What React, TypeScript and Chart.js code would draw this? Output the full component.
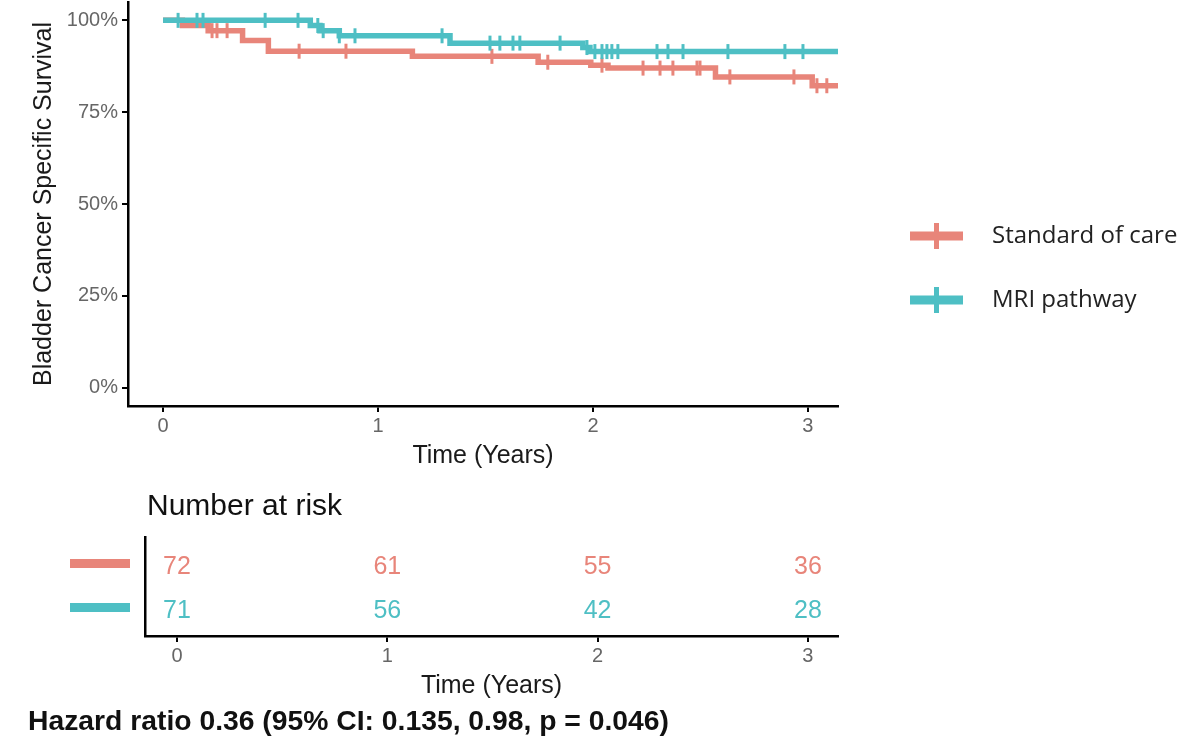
import React, { useEffect, useRef } from 'react';
import { Chart, registerables } from 'chart.js';

Chart.register(...registerables);
Chart.defaults.font.family = "'Liberation Sans', Arial, Helvetica, sans-serif";

const SOC_COLOR = '#E8857A';
const MRI_COLOR = '#4EBFC4';
const TICK_COLOR = '#666666';
const TITLE_COLOR = '#1a1a1a';

// Kaplan-Meier step curves: time (years) of each step and survival (%) after it
const socTimes = [0, 0.09, 0.21, 0.37, 0.49, 1.16, 1.745, 1.99, 2.07, 2.57, 3.02, 3.14];
const socSurv = [100, 98.6, 97.2, 94.5, 91.6, 90.2, 88.6, 87.8, 87.0, 84.6, 82.2, 82.2];
const mriTimes = [0, 0.685, 0.73, 0.82, 1.335, 1.953, 1.986, 3.14];
const mriSurv = [100, 98.6, 97.2, 95.8, 93.8, 92.6, 91.5, 91.5];

// Censoring times (years)
const socCensor = [0.228, 0.251, 0.298, 0.633, 0.851, 1.53, 1.79, 2.042, 2.233, 2.312, 2.372, 2.484, 2.498, 2.637, 2.935, 3.042, 3.088];
const mriCensor = [0.07, 0.158, 0.186, 0.475, 0.628, 0.72, 0.745, 0.82, 0.893, 1.298, 1.521, 1.567, 1.628, 1.66, 1.847, 1.972, 2.009, 2.042, 2.065, 2.088, 2.116, 2.298, 2.349, 2.419, 2.628, 2.893, 2.977];

// Axis ticks
const timeTicks = [0, 1, 2, 3];
const survTicks = [0, 25, 50, 75, 100];

// Number at risk table
const riskTimes = [0, 1, 2, 3];
const riskSoc = [72, 61, 55, 36];
const riskMri = [71, 56, 42, 28];

const groups = [
  { label: 'Standard of care', color: SOC_COLOR },
  { label: 'MRI pathway', color: MRI_COLOR },
];

const hazardText = 'Hazard ratio 0.36 (95% CI: 0.135, 0.98, p = 0.046)';

function stepValue(times: number[], surv: number[], t: number): number {
  let v = surv[0];
  for (let i = 0; i < times.length; i++) if (times[i] <= t) v = surv[i];
  return v;
}

const toPoints = (xs: number[], ys: number[]) => xs.map((x, i) => ({ x, y: ys[i] }));

// keep the plot area exactly where the layout padding puts it
const noEdgePadding = (s: any) => {
  s.paddingTop = 0;
  s.paddingBottom = 0;
  s.paddingLeft = 0;
  s.paddingRight = 0;
};

const sideLegend = {
  id: 'sideLegend',
  afterDraw(chart: any) {
    const ctx = chart.ctx as CanvasRenderingContext2D;
    ctx.save();
    groups.forEach((g, i) => {
      const y = 236 + i * 64;
      ctx.strokeStyle = g.color;
      ctx.lineCap = 'butt';
      ctx.lineWidth = 9;
      ctx.beginPath();
      ctx.moveTo(910, y);
      ctx.lineTo(963, y);
      ctx.stroke();
      ctx.lineWidth = 5;
      ctx.beginPath();
      ctx.moveTo(936.5, y - 13);
      ctx.lineTo(936.5, y + 13);
      ctx.stroke();
      ctx.fillStyle = '#222222';
      ctx.font = "24px 'Open Sans', sans-serif";
      ctx.textBaseline = 'middle';
      ctx.textAlign = 'left';
      ctx.fillText(g.label, 992, y);
    });
    ctx.restore();
  },
};

const riskLabels = {
  id: 'riskLabels',
  afterDraw(chart: any) {
    const ctx = chart.ctx as CanvasRenderingContext2D;
    const xs = chart.scales.x;
    const ys = chart.scales.y;
    ctx.save();
    // table title
    ctx.fillStyle = '#111111';
    ctx.font = "30px 'Liberation Sans', Arial, sans-serif";
    ctx.textBaseline = 'middle';
    ctx.textAlign = 'left';
    ctx.fillText('Number at risk', 147, 27);
    // rows
    const rows = [
      { values: riskSoc, row: 2, color: SOC_COLOR },
      { values: riskMri, row: 1, color: MRI_COLOR },
    ];
    rows.forEach((r) => {
      const y = ys.getPixelForValue(r.row);
      ctx.fillStyle = r.color;
      ctx.fillRect(70, y - 7, 60, 9);
      ctx.font = "25px 'Liberation Sans', Arial, sans-serif";
      ctx.textAlign = 'center';
      r.values.forEach((v, i) => {
        ctx.fillText(String(v), xs.getPixelForValue(riskTimes[i]), y + 1);
      });
    });
    // hazard ratio note
    ctx.fillStyle = '#111111';
    ctx.font = "bold 28.3px 'Liberation Sans', Arial, sans-serif";
    ctx.textAlign = 'left';
    ctx.fillText(hazardText, 28, 242);
    ctx.restore();
  },
};

export default function App() {
  const kmRef = useRef<HTMLCanvasElement>(null);
  const riskRef = useRef<HTMLCanvasElement>(null);

  useEffect(() => {
    const km = new Chart(kmRef.current as HTMLCanvasElement, {
      type: 'line',
      data: {
        datasets: [
          {
            label: groups[0].label,
            data: toPoints(socTimes, socSurv),
            borderColor: SOC_COLOR,
            backgroundColor: SOC_COLOR,
            borderWidth: 5.5,
            stepped: 'before',
            pointRadius: 0,
            fill: false,
            order: 4,
          },
          {
            label: groups[1].label,
            data: toPoints(mriTimes, mriSurv),
            borderColor: MRI_COLOR,
            backgroundColor: MRI_COLOR,
            borderWidth: 5.5,
            stepped: 'before',
            pointRadius: 0,
            fill: false,
            order: 3,
          },
          {
            type: 'scatter',
            label: groups[0].label + ' censored',
            data: socCensor.map((t) => ({ x: t, y: stepValue(socTimes, socSurv, t) })),
            pointStyle: 'line',
            rotation: 90,
            pointRadius: 7.5,
            borderColor: SOC_COLOR,
            borderWidth: 3,
            showLine: false,
            order: 2,
          },
          {
            type: 'scatter',
            label: groups[1].label + ' censored',
            data: mriCensor.map((t) => ({ x: t, y: stepValue(mriTimes, mriSurv, t) })),
            pointStyle: 'line',
            rotation: 90,
            pointRadius: 7.5,
            borderColor: MRI_COLOR,
            borderWidth: 3,
            showLine: false,
            order: 1,
          },
        ] as any,
      },
      options: {
        responsive: false,
        animation: false,
        devicePixelRatio: 1,
        layout: { autoPadding: false, padding: { left: 0, top: 2, right: 362, bottom: 0 } },
        plugins: { legend: { display: false }, tooltip: { enabled: false } },
        scales: {
          x: {
            type: 'linear',
            min: -0.163,
            max: 3.14,
            afterBuildTicks: (s: any) => {
              s.ticks = timeTicks.map((v) => ({ value: v }));
            },
            afterFit: (s: any) => {
              s.height = 74;
              noEdgePadding(s);
            },
            ticks: { color: TICK_COLOR, font: { size: 20 }, padding: 2 },
            grid: { drawOnChartArea: false, drawTicks: true, tickLength: 6, color: '#000', lineWidth: 2 },
            border: { display: true, color: '#000', width: 2.5 },
            title: {
              display: true,
              text: 'Time (Years)',
              color: TITLE_COLOR,
              font: { size: 25 },
              padding: { top: 0, bottom: 9 },
            },
          },
          y: {
            type: 'linear',
            min: -5,
            max: 105,
            afterBuildTicks: (s: any) => {
              s.ticks = survTicks.map((v) => ({ value: v }));
            },
            afterFit: (s: any) => {
              s.width = 128;
              noEdgePadding(s);
            },
            ticks: { color: TICK_COLOR, font: { size: 20 }, padding: 4, callback: (v: any) => v + '%' },
            grid: { drawOnChartArea: false, drawTicks: true, tickLength: 6, color: '#000', lineWidth: 2 },
            border: { display: true, color: '#000', width: 2.5 },
            title: {
              display: true,
              text: 'Bladder Cancer Specific Survival',
              color: TITLE_COLOR,
              font: { size: 25 },
              padding: { top: 29, bottom: 0 },
            },
          },
        },
      },
      plugins: [sideLegend],
    });

    const risk = new Chart(riskRef.current as HTMLCanvasElement, {
      type: 'scatter',
      data: {
        datasets: [
          { label: groups[0].label, data: riskTimes.map((t) => ({ x: t, y: 2 })), pointRadius: 0 },
          { label: groups[1].label, data: riskTimes.map((t) => ({ x: t, y: 1 })), pointRadius: 0 },
        ],
      },
      options: {
        responsive: false,
        animation: false,
        devicePixelRatio: 1,
        layout: { autoPadding: false, padding: { left: 0, top: 57, right: 362, bottom: 0 } },
        plugins: { legend: { display: false }, tooltip: { enabled: false } },
        scales: {
          x: {
            type: 'linear',
            min: -0.152,
            max: 3.143,
            afterBuildTicks: (s: any) => {
              s.ticks = timeTicks.map((v) => ({ value: v }));
            },
            afterFit: (s: any) => {
              s.height = 104;
              noEdgePadding(s);
            },
            ticks: { color: TICK_COLOR, font: { size: 20 }, padding: 2 },
            grid: { drawOnChartArea: false, drawTicks: true, tickLength: 6, color: '#000', lineWidth: 2 },
            border: { display: true, color: '#000', width: 2.5 },
            title: {
              display: true,
              text: 'Time (Years)',
              color: TITLE_COLOR,
              font: { size: 25 },
              padding: { top: 0, bottom: 39 },
            },
          },
          y: {
            type: 'linear',
            min: 0.409,
            max: 2.659,
            afterFit: (s: any) => {
              s.width = 145;
              noEdgePadding(s);
            },
            ticks: { display: false },
            grid: { display: false },
            border: { display: true, color: '#000', width: 2.5 },
          },
        },
      },
      plugins: [riskLabels],
    });

    return () => {
      km.destroy();
      risk.destroy();
    };
  }, []);

  return (
    <div style={{ position: 'fixed', left: 0, top: 0, width: 1200, height: 740, background: '#ffffff' }}>
      <canvas ref={kmRef} width={1200} height={480} style={{ position: 'absolute', left: 0, top: 0 }} />
      <canvas ref={riskRef} width={1200} height={260} style={{ position: 'absolute', left: 0, top: 480 }} />
    </div>
  );
}
